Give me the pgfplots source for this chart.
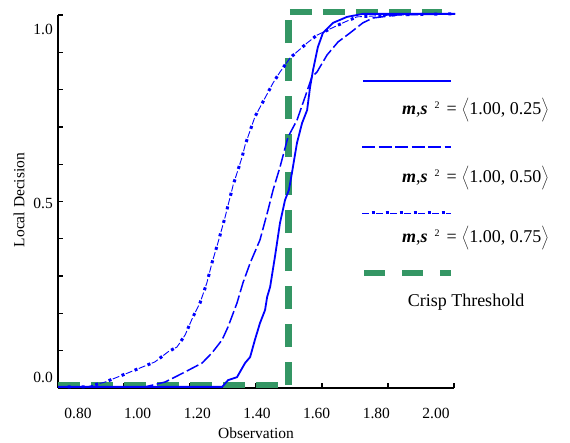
\documentclass[border=0pt]{standalone}
\usepackage{pgfplots}
\pgfplotsset{compat=1.18}
\usepackage{fontspec}
\setmainfont{Liberation Serif}
\definecolor{cgreen}{RGB}{52,150,100}
\definecolor{cblue}{RGB}{0,0,255}
\tikzset{
  solidsty/.style={cblue, line width=1.8bp},
  dashsty/.style={cblue, line width=1.5bp, dash pattern=on 13bp off 3.5bp},
  dotthin/.style={cblue, line width=0.9bp, dash pattern=on 7bp off 7bp},
  dotthick/.style={cblue, line width=3bp, dash pattern=on 3bp off 11bp, dash phase=4.5bp},
}
\newcommand{\legtext}[1]{\textbf{\textit{m}},\textbf{\textit{s}}\hspace{7bp}\raisebox{0.75ex}{\fontsize{10bp}{12bp}\selectfont 2}\hspace{7bp}=\hspace{5bp}$\bigg\langle$1.00, #1$\bigg\rangle$}
\begin{document}
\fontsize{15.5bp}{18bp}\selectfont
\begin{tikzpicture}
\path[use as bounding box] (-58bp,-55bp) rectangle (512bp,388bp);
\begin{axis}[
  at={(0,0)}, anchor=south west,
  scale only axis, width=396bp, height=373bp,
  xmin=0.73296, xmax=2.06036, ymin=0, ymax=1,
  clip=false,
  axis x line*=bottom, axis y line*=left,
  axis line style={line width=1.5bp, black},
  tick align=inside,
  major tick length=5.5bp,
  tick style={line width=1.3bp, black},
  xtick={0.9542,1.1754,1.3966,1.6179,1.8391,2.0604}, xticklabels={},
  ytick={0,0.1,0.2,0.3,0.4,0.5,0.6,0.7,0.8,0.9,1.0}, yticklabels={},
  extra x ticks={0.8,1.0,1.2,1.4,1.6,1.8,2.0},
  extra x tick labels={0.80,1.00,1.20,1.40,1.60,1.80,2.00},
  extra y ticks={0.029,0.496,0.960},
  extra y tick labels={0.0,0.5,1.0},
  extra tick style={major tick length=0pt},
  /pgf/number format/assume math mode=true,
  xticklabel style={anchor=center, inner sep=0pt, yshift=-25.7bp},
  yticklabel style={anchor=east, inner sep=0pt, xshift=-5bp},
  xlabel={Observation},
  xlabel style={at={(axis description cs:0.5,-0.1206)}, anchor=center},
  ylabel={Local Decision},
  ylabel style={at={(axis description cs:-0.0985,0.504)}, anchor=center},
]
% Crisp threshold
\addplot[cgreen, line width=6bp, dash pattern=on 22bp off 11bp] coordinates {(0.733,0.008) (1.507,0.008)};
\addplot[cgreen, line width=7bp, dash pattern=on 23bp off 15bp] coordinates {(1.507,0.008) (1.507,1.007)};
\addplot[cgreen, line width=6bp, dash pattern=on 22bp off 11bp] coordinates {(1.510,1.007) (2.02,1.007)};
% sigma^2 = 0.75
\addplot[dotthin] coordinates {
(0.733,0.003) (0.830,0.003) (0.891,0.016) (0.966,0.040) (1.058,0.070) (1.102,0.097)
(1.132,0.110) (1.159,0.142) (1.185,0.190) (1.209,0.228) (1.232,0.282) (1.249,0.335)
(1.269,0.389) (1.293,0.458) (1.316,0.531) (1.320,0.544) (1.350,0.619) (1.360,0.651)
(1.393,0.727) (1.454,0.818) (1.477,0.847) (1.511,0.885) (1.568,0.925) (1.601,0.946)
(1.688,0.979) (1.735,0.995) (1.856,1.000) (2.064,1.003)};
\addplot[dotthick] coordinates {
(0.733,0.003) (0.830,0.003) (0.891,0.016) (0.966,0.040) (1.058,0.070) (1.102,0.097)
(1.132,0.110) (1.159,0.142) (1.185,0.190) (1.209,0.228) (1.232,0.282) (1.249,0.335)
(1.269,0.389) (1.293,0.458) (1.316,0.531) (1.320,0.544) (1.350,0.619) (1.360,0.651)
(1.393,0.727) (1.454,0.818) (1.477,0.847) (1.511,0.885) (1.568,0.925) (1.601,0.946)
(1.688,0.979) (1.735,0.995) (1.856,1.000) (2.064,1.003)};
% sigma^2 = 0.50
\addplot[dashsty] coordinates {
(0.733,0.003) (1.025,0.003) (1.092,0.016) (1.159,0.043) (1.216,0.067) (1.249,0.094)
(1.283,0.129) (1.303,0.164) (1.333,0.228) (1.353,0.282) (1.377,0.335) (1.410,0.397)
(1.437,0.477) (1.454,0.531) (1.477,0.592) (1.504,0.673) (1.534,0.718) (1.561,0.780)
(1.584,0.834) (1.601,0.847) (1.635,0.893) (1.672,0.928) (1.712,0.952) (1.755,0.979)
(1.789,0.992) (1.869,1.000) (2.064,1.003)};
% sigma^2 = 0.25
\addplot[solidsty] coordinates {
(0.733,0.003) (1.283,0.003) (1.303,0.021) (1.333,0.029) (1.360,0.067) (1.377,0.083)
(1.393,0.129) (1.410,0.174) (1.427,0.209) (1.434,0.244) (1.444,0.271) (1.460,0.351)
(1.477,0.442) (1.494,0.504) (1.507,0.531) (1.517,0.576) (1.534,0.657) (1.551,0.710)
(1.568,0.745) (1.578,0.807) (1.588,0.853) (1.604,0.914) (1.621,0.952) (1.655,0.979)
(1.702,0.995) (1.755,1.003) (2.064,1.003)};
\end{axis}
% legend
\draw[solidsty] (305bp,307bp) -- (393bp,307bp);
\draw[dashsty] (304bp,241bp) -- (393bp,241bp);
\draw[dotthin] (304bp,175bp) -- (393bp,175bp);
\draw[dotthick] (304bp,175bp) -- (393bp,175bp);
\draw[cgreen, line width=6.5bp, dash pattern=on 21bp off 17bp] (306bp,115bp) -- (393bp,115bp);
\begin{scope}[every node/.style={inner sep=0pt, font=\fontsize{18bp}{21bp}\selectfont}]
\node[anchor=east] at (491bp,278bp) {\legtext{0.25}};
\node[anchor=east] at (491bp,210bp) {\legtext{0.50}};
\node[anchor=east] at (491bp,150bp) {\legtext{0.75}};
\node at (408bp,86bp) {Crisp Threshold};
\end{scope}
\end{tikzpicture}
\end{document}
